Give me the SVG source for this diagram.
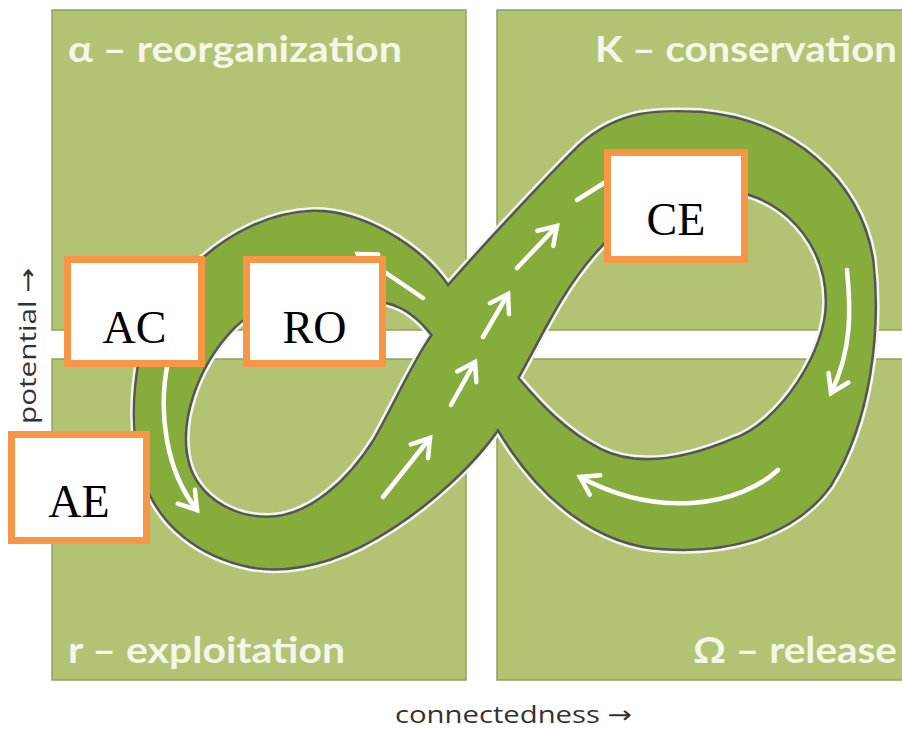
<svg xmlns="http://www.w3.org/2000/svg" width="902" height="729" viewBox="0 0 902 729">
<defs>
<style>
.quad{fill:#b2c374;stroke:#8fa35a;stroke-width:1.5}
.qlabel{font-family:Lato,"Open Sans","DejaVu Sans",sans-serif;font-weight:700;font-size:37px;fill:#f3f6e8}
.axis{font-family:"Open Sans","DejaVu Sans",sans-serif;font-size:24px;fill:#333}
.halo{fill:none;stroke:#f4f6ee;stroke-width:10;stroke-linejoin:round}
.edge{fill:none;stroke:#555;stroke-width:5;stroke-linejoin:round}
.band{fill:#86ac3b;fill-rule:evenodd;stroke:none}
.flow{fill:none;stroke:#fff;stroke-width:4.5;stroke-linecap:round}
.box{fill:#fff;stroke:#f79646;stroke-width:7}
.blabel{font-family:"Liberation Serif","Times New Roman",serif;font-size:46px;fill:#000;text-anchor:middle}
</style>
<marker id="ah" viewBox="-20 -13 24 26" markerWidth="24" markerHeight="26" refX="0" refY="0" orient="auto" markerUnits="userSpaceOnUse" overflow="visible">
<path d="M-17,-11 L0,0 L-17,11" fill="none" stroke="#fff" stroke-width="4.5" stroke-linecap="round" stroke-linejoin="miter"/>
</marker>
<path id="eight" d="M313,212 C360,211 420,245 448,287 C470,262 540,185 580,146 C620,110 660,111 700,113 C790,120 860,180 872,260 C880,330 870,420 830,485 C790,540 720,552 663,548 C600,545 540,500 498,428 C480,455 430,510 360,546 C320,566 280,572 250,566 C200,556 160,525 145,480 C132,440 133,400 140,360 C155,290 230,215 313,212 Z M433,335 C420,318 405,306 387,302 C340,285 265,290 228,333 C195,370 180,420 186,455 C192,495 230,518 267,518 C310,518 350,480 375,440 C395,405 415,360 433,335 Z M517,378 C530,355 545,325 560,300 C590,250 640,195 700,190 C770,180 827,235 827,300 C829,350 780,425 733,440 C690,458 640,470 600,450 C565,432 540,405 517,378 Z"/>
</defs>
<rect width="902" height="729" fill="#fff"/>
<g id="quadrants">
<g id="q-alpha"><rect class="quad" x="52" y="10" width="414" height="320"/><text class="qlabel" x="68" y="62" textLength="334" lengthAdjust="spacingAndGlyphs">α – reorganization</text></g>
<g id="q-k"><rect class="quad" x="497" y="10" width="410" height="320"/><text class="qlabel" x="595" y="62" textLength="302" lengthAdjust="spacingAndGlyphs">K – conservation</text></g>
<g id="q-r"><rect class="quad" x="52" y="359" width="414" height="321"/><text class="qlabel" x="68" y="663" textLength="277" lengthAdjust="spacingAndGlyphs">r – exploitation</text></g>
<g id="q-omega"><rect class="quad" x="497" y="359" width="410" height="321"/><text class="qlabel" x="693" y="663" textLength="204" lengthAdjust="spacingAndGlyphs">Ω – release</text></g>
</g>
<g id="loop">
<use href="#eight" class="halo"/>
<use href="#eight" class="edge"/>
<use href="#eight" class="band"/>
</g>
<g id="connectors">
<path class="flow" d="M168,362 C158,410 165,470 197,510" marker-end="url(#ah)"/>
<path class="flow" d="M423,298 L358,254" marker-end="url(#ah)"/>
<path class="flow" d="M383,497 L430,438" marker-end="url(#ah)"/>
<path class="flow" d="M451,405 L475,362" marker-end="url(#ah)"/>
<path class="flow" d="M483,337 L508,294" marker-end="url(#ah)"/>
<path class="flow" d="M517,268 L557,226" marker-end="url(#ah)"/>
<path class="flow" d="M577,200 L612,178"/>
<path class="flow" d="M847,270 C851,310 852,350 831,393" marker-end="url(#ah)"/>
<path class="flow" d="M778,470 C740,505 660,520 580,477" marker-end="url(#ah)"/>
</g>
<g id="node-AC"><rect class="box" x="67.5" y="259.5" width="134" height="104"/><text class="blabel" x="134.5" y="343">AC</text></g>
<g id="node-RO"><rect class="box" x="246.5" y="259.5" width="136" height="104"/><text class="blabel" x="314.5" y="343">RO</text></g>
<g id="node-CE"><rect class="box" x="607.5" y="152.5" width="137" height="107"/><text class="blabel" x="676" y="235">CE</text></g>
<g id="node-AE"><rect class="box" x="11.5" y="434.5" width="135" height="106"/><text class="blabel" x="79" y="517">AE</text></g>
<g id="axes">
<text class="axis" x="395" y="723" textLength="237" lengthAdjust="spacingAndGlyphs">connectedness →</text>
<text class="axis" transform="translate(36,424) rotate(-90)" x="0" y="0" textLength="156" lengthAdjust="spacingAndGlyphs">potential →</text>
</g>
</svg>
